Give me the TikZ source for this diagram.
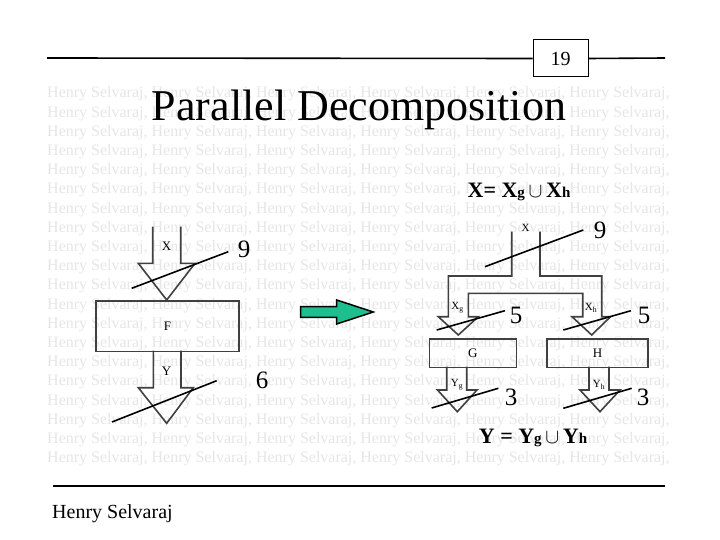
\documentclass[tikz,border=0pt]{standalone}
\usepackage{fontspec}
\setmainfont{Liberation Serif}
\definecolor{wm}{HTML}{E6E6E6}
\definecolor{arrowgray}{HTML}{404040}
\definecolor{teal}{HTML}{1DBF8F}
\begin{document}
\begin{tikzpicture}[x=1pt,y=-1pt,
  blockarrow/.style={draw=arrowgray,line width=1.6pt,line join=miter},
  slash/.style={draw=black,line width=1.6pt},
  num/.style={font=\fontsize{25}{25}\selectfont,inner sep=0pt},
  lab/.style={font=\fontsize{13}{13}\selectfont,inner sep=0pt},
  slab/.style={font=\fontsize{11}{11}\selectfont,inner sep=0pt},
  watermark/.style={font=\fontsize{16}{16}\selectfont,text=wm,inner sep=0pt,anchor=west}]
\useasboundingbox (0,0) rectangle (720,540);
\fill[white] (0,0) rectangle (720,540);
% watermark rows
\foreach \i in {0,...,19}{
  \node[watermark] (wm\i) at (47,{94+19.2*\i}) {Henry Selvaraj, Henry Selvaraj, Henry Selvaraj, Henry Selvaraj, Henry Selvaraj, Henry Selvaraj,};
}
% header
\node[draw,line width=1pt,minimum width=55pt,minimum height=37pt,inner sep=0pt,fill=white,font=\fontsize{20}{20}\selectfont] (pg) at (560.5,58.5) {19};
\coordinate (hl) at (47,58);
\coordinate (hr) at (665,58);
\draw[line width=1.6pt] (hl) -- (pg.west);
\draw[line width=1.6pt] (pg.east) -- (hr);
\node[font=\fontsize{44}{44}\selectfont,inner sep=0pt] (title) at (359,110) {Parallel Decomposition};
% footer
\coordinate (fl) at (53,486);
\coordinate (fr) at (665,486);
\draw[line width=2pt] (fl) -- (fr);
\node[anchor=west,font=\fontsize{20}{20}\selectfont,inner sep=0pt] (author) at (52,514) {Henry Selvaraj};
% left diagram
\draw[blockarrow] (152.7,226.7) -- (152.7,263.3) -- (138.3,263.3) -- (166.7,300) -- (195,263.3) -- (180.7,263.3) -- (180.7,226.7);
\node[lab] (lx) at (166.5,246) {X};
\node[draw=arrowgray,line width=1.6pt,minimum width=143.3pt,minimum height=50.7pt,inner sep=0pt,anchor=north west,font=\fontsize{13}{13}\selectfont] (F) at (95,300) {F};
\draw[blockarrow] (153.3,350.7) -- (153.3,387.7) -- (138.3,387.7) -- (166.7,423.3) -- (193.3,387.7) -- (181,387.7) -- (181,350.7);
\node[lab] (ly) at (166.5,371) {Y};
\draw[slash] (131.7,288.3) -- (228.3,251.7);
\node[num] (n9a) at (244,249) {9};
\draw[slash] (112,422) -- (216.7,380.7);
\node[num] (n6) at (262,380) {6};
% green arrow
\draw[fill=teal,draw=black,line width=1.5pt,line join=miter] (300.7,306.7) -- (336.7,306.7) -- (336.7,300) -- (373.3,312) -- (336.7,324) -- (336.7,317.3) -- (300.7,317.3) -- cycle;
% right diagram
\node[font=\bfseries\fontsize{22}{22}\selectfont,inner sep=0pt] (xeq) at (519,192) {X= X{\fontsize{15}{15}\selectfont g}\,$\cup$\,X{\fontsize{15}{15}\selectfont h}};
\draw[blockarrow] (511.7,231.7) -- (511.7,276) -- (448.3,276) -- (448.3,316.7) -- (438.3,316.7) -- (458.3,335) -- (478.3,316.7) -- (468.3,316.7) -- (468.3,293.3)
  -- (582.7,293.3) -- (582.7,316.7) -- (572,316.7) -- (591.7,335) -- (610.5,316.7) -- (601.7,316.7) -- (601.7,276) -- (540,276) -- (540,231.7);
\node[slab] (rx) at (525.5,228) {X};
\draw[slash] (485,266.7) -- (583.3,230);
\node[num] (n9b) at (600,230) {9};
\node[slab] (xg) at (457.5,308) {X\textsubscript{g}};
\node[slab] (xh) at (591,308) {X\textsubscript{h}};
\draw[slash] (436.7,330) -- (505,310.7);
\node[num] (n5a) at (516,315) {5};
\draw[slash] (563.3,330) -- (631,310.7);
\node[num] (n5b) at (644,315) {5};
\node[draw=arrowgray,line width=1.6pt,minimum width=87pt,minimum height=28.4pt,inner sep=0pt,anchor=north west,font=\fontsize{13}{13}\selectfont] (G) at (428.5,338.3) {G};
\node[draw=arrowgray,line width=1.6pt,minimum width=101pt,minimum height=28.4pt,inner sep=0pt,anchor=north west,font=\fontsize{13}{13}\selectfont] (H) at (546.3,338.3) {H};
\draw[blockarrow] (446.7,366.7) -- (446.7,390) -- (437.5,390) -- (457.3,411.7) -- (477,390) -- (466.7,390) -- (466.7,366.7);
\draw[blockarrow] (589,366.7) -- (589,390) -- (580,390) -- (600,411.7) -- (620,390) -- (609,390) -- (609,366.7);
\node[slab] (yg) at (457,385) {Y\textsubscript{g}};
\node[slab] (yh) at (599,385) {Y\textsubscript{h}};
\draw[slash] (431.7,408) -- (498.3,388.3);
\node[num] (n3a) at (511,397) {3};
\draw[slash] (563.3,408.3) -- (631.7,388.3);
\node[num] (n3b) at (643,397) {3};
\node[font=\bfseries\fontsize{22}{22}\selectfont,inner sep=0pt] (yeq) at (533,438) {Y = Y{\fontsize{15}{15}\selectfont g}\,$\cup$\,Y{\fontsize{15}{15}\selectfont h}};
\end{tikzpicture}
\end{document}
